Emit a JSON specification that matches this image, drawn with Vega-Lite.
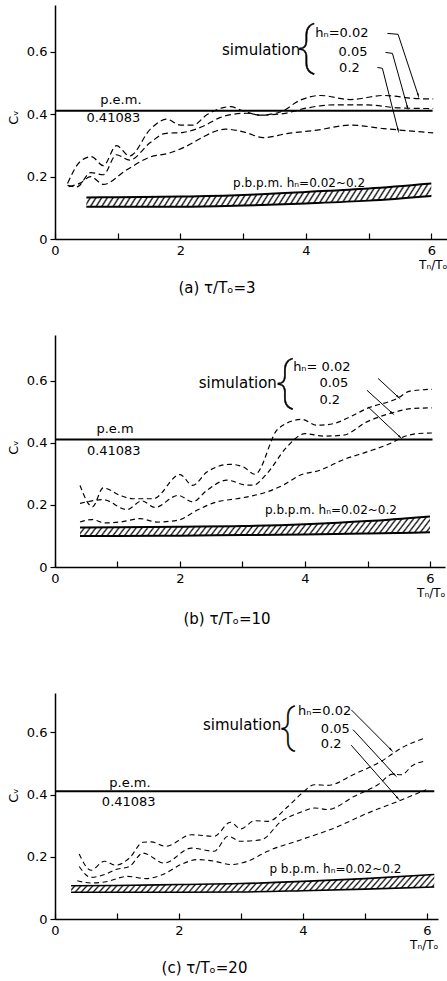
{
  "$schema": "https://vega.github.io/schema/vega-lite/v6.json",
  "background": "white",
  "padding": {"left": 7, "top": 5, "right": 0, "bottom": 0},
  "spacing": 39,
  "config": {
    "font": "DejaVu Sans",
    "view": {"stroke": null},
    "axis": {"grid": false, "labelFlush": false, "domainColor": "black", "domainWidth": 1.5, "tickColor": "black", "tickWidth": 1.2, "labelColor": "black", "labelFontSize": 13, "titleColor": "black", "titleFontWeight": "normal"},
    "title": {"fontSize": 15, "fontWeight": "normal", "color": "black", "orient": "bottom", "anchor": "middle", "offset": 11},
    "area": {
      "fillOpacity": 1,
      "strokeWidth": 0,
      "fill": {
        "gradient": "linear", "x1": 0, "y1": 0, "x2": 1.05, "y2": 0.045,
        "stops": [
          {"offset":0,"color":"#fff"},{"offset":0.0045,"color":"#111"},{"offset":0.009,"color":"#fff"},
          {"offset":0.0156,"color":"#fff"},{"offset":0.0201,"color":"#111"},{"offset":0.0246,"color":"#fff"},
          {"offset":0.0313,"color":"#fff"},{"offset":0.0358,"color":"#111"},{"offset":0.0403,"color":"#fff"},
          {"offset":0.0469,"color":"#fff"},{"offset":0.0514,"color":"#111"},{"offset":0.0559,"color":"#fff"},
          {"offset":0.0625,"color":"#fff"},{"offset":0.067,"color":"#111"},{"offset":0.0715,"color":"#fff"},
          {"offset":0.0781,"color":"#fff"},{"offset":0.0826,"color":"#111"},{"offset":0.0871,"color":"#fff"},
          {"offset":0.0938,"color":"#fff"},{"offset":0.0983,"color":"#111"},{"offset":0.1028,"color":"#fff"},
          {"offset":0.1094,"color":"#fff"},{"offset":0.1139,"color":"#111"},{"offset":0.1184,"color":"#fff"},
          {"offset":0.125,"color":"#fff"},{"offset":0.1295,"color":"#111"},{"offset":0.134,"color":"#fff"},
          {"offset":0.1406,"color":"#fff"},{"offset":0.1451,"color":"#111"},{"offset":0.1496,"color":"#fff"},
          {"offset":0.1563,"color":"#fff"},{"offset":0.1608,"color":"#111"},{"offset":0.1653,"color":"#fff"},
          {"offset":0.1719,"color":"#fff"},{"offset":0.1764,"color":"#111"},{"offset":0.1809,"color":"#fff"},
          {"offset":0.1875,"color":"#fff"},{"offset":0.192,"color":"#111"},{"offset":0.1965,"color":"#fff"},
          {"offset":0.2031,"color":"#fff"},{"offset":0.2076,"color":"#111"},{"offset":0.2121,"color":"#fff"},
          {"offset":0.2188,"color":"#fff"},{"offset":0.2233,"color":"#111"},{"offset":0.2278,"color":"#fff"},
          {"offset":0.2344,"color":"#fff"},{"offset":0.2389,"color":"#111"},{"offset":0.2434,"color":"#fff"},
          {"offset":0.25,"color":"#fff"},{"offset":0.2545,"color":"#111"},{"offset":0.259,"color":"#fff"},
          {"offset":0.2656,"color":"#fff"},{"offset":0.2701,"color":"#111"},{"offset":0.2746,"color":"#fff"},
          {"offset":0.2813,"color":"#fff"},{"offset":0.2858,"color":"#111"},{"offset":0.2903,"color":"#fff"},
          {"offset":0.2969,"color":"#fff"},{"offset":0.3014,"color":"#111"},{"offset":0.3059,"color":"#fff"},
          {"offset":0.3125,"color":"#fff"},{"offset":0.317,"color":"#111"},{"offset":0.3215,"color":"#fff"},
          {"offset":0.3281,"color":"#fff"},{"offset":0.3326,"color":"#111"},{"offset":0.3371,"color":"#fff"},
          {"offset":0.3438,"color":"#fff"},{"offset":0.3483,"color":"#111"},{"offset":0.3528,"color":"#fff"},
          {"offset":0.3594,"color":"#fff"},{"offset":0.3639,"color":"#111"},{"offset":0.3684,"color":"#fff"},
          {"offset":0.375,"color":"#fff"},{"offset":0.3795,"color":"#111"},{"offset":0.384,"color":"#fff"},
          {"offset":0.3906,"color":"#fff"},{"offset":0.3951,"color":"#111"},{"offset":0.3996,"color":"#fff"},
          {"offset":0.4063,"color":"#fff"},{"offset":0.4108,"color":"#111"},{"offset":0.4153,"color":"#fff"},
          {"offset":0.4219,"color":"#fff"},{"offset":0.4264,"color":"#111"},{"offset":0.4309,"color":"#fff"},
          {"offset":0.4375,"color":"#fff"},{"offset":0.442,"color":"#111"},{"offset":0.4465,"color":"#fff"},
          {"offset":0.4531,"color":"#fff"},{"offset":0.4576,"color":"#111"},{"offset":0.4621,"color":"#fff"},
          {"offset":0.4688,"color":"#fff"},{"offset":0.4733,"color":"#111"},{"offset":0.4778,"color":"#fff"},
          {"offset":0.4844,"color":"#fff"},{"offset":0.4889,"color":"#111"},{"offset":0.4934,"color":"#fff"},
          {"offset":0.5,"color":"#fff"},{"offset":0.5045,"color":"#111"},{"offset":0.509,"color":"#fff"},
          {"offset":0.5156,"color":"#fff"},{"offset":0.5201,"color":"#111"},{"offset":0.5246,"color":"#fff"},
          {"offset":0.5313,"color":"#fff"},{"offset":0.5358,"color":"#111"},{"offset":0.5403,"color":"#fff"},
          {"offset":0.5469,"color":"#fff"},{"offset":0.5514,"color":"#111"},{"offset":0.5559,"color":"#fff"},
          {"offset":0.5625,"color":"#fff"},{"offset":0.567,"color":"#111"},{"offset":0.5715,"color":"#fff"},
          {"offset":0.5781,"color":"#fff"},{"offset":0.5826,"color":"#111"},{"offset":0.5871,"color":"#fff"},
          {"offset":0.5938,"color":"#fff"},{"offset":0.5983,"color":"#111"},{"offset":0.6028,"color":"#fff"},
          {"offset":0.6094,"color":"#fff"},{"offset":0.6139,"color":"#111"},{"offset":0.6184,"color":"#fff"},
          {"offset":0.625,"color":"#fff"},{"offset":0.6295,"color":"#111"},{"offset":0.634,"color":"#fff"},
          {"offset":0.6406,"color":"#fff"},{"offset":0.6451,"color":"#111"},{"offset":0.6496,"color":"#fff"},
          {"offset":0.6563,"color":"#fff"},{"offset":0.6608,"color":"#111"},{"offset":0.6653,"color":"#fff"},
          {"offset":0.6719,"color":"#fff"},{"offset":0.6764,"color":"#111"},{"offset":0.6809,"color":"#fff"},
          {"offset":0.6875,"color":"#fff"},{"offset":0.692,"color":"#111"},{"offset":0.6965,"color":"#fff"},
          {"offset":0.7031,"color":"#fff"},{"offset":0.7076,"color":"#111"},{"offset":0.7121,"color":"#fff"},
          {"offset":0.7188,"color":"#fff"},{"offset":0.7233,"color":"#111"},{"offset":0.7278,"color":"#fff"},
          {"offset":0.7344,"color":"#fff"},{"offset":0.7389,"color":"#111"},{"offset":0.7434,"color":"#fff"},
          {"offset":0.75,"color":"#fff"},{"offset":0.7545,"color":"#111"},{"offset":0.759,"color":"#fff"},
          {"offset":0.7656,"color":"#fff"},{"offset":0.7701,"color":"#111"},{"offset":0.7746,"color":"#fff"},
          {"offset":0.7813,"color":"#fff"},{"offset":0.7858,"color":"#111"},{"offset":0.7903,"color":"#fff"},
          {"offset":0.7969,"color":"#fff"},{"offset":0.8014,"color":"#111"},{"offset":0.8059,"color":"#fff"},
          {"offset":0.8125,"color":"#fff"},{"offset":0.817,"color":"#111"},{"offset":0.8215,"color":"#fff"},
          {"offset":0.8281,"color":"#fff"},{"offset":0.8326,"color":"#111"},{"offset":0.8371,"color":"#fff"},
          {"offset":0.8438,"color":"#fff"},{"offset":0.8483,"color":"#111"},{"offset":0.8528,"color":"#fff"},
          {"offset":0.8594,"color":"#fff"},{"offset":0.8639,"color":"#111"},{"offset":0.8684,"color":"#fff"},
          {"offset":0.875,"color":"#fff"},{"offset":0.8795,"color":"#111"},{"offset":0.884,"color":"#fff"},
          {"offset":0.8906,"color":"#fff"},{"offset":0.8951,"color":"#111"},{"offset":0.8996,"color":"#fff"},
          {"offset":0.9063,"color":"#fff"},{"offset":0.9108,"color":"#111"},{"offset":0.9153,"color":"#fff"},
          {"offset":0.9219,"color":"#fff"},{"offset":0.9264,"color":"#111"},{"offset":0.9309,"color":"#fff"},
          {"offset":0.9375,"color":"#fff"},{"offset":0.942,"color":"#111"},{"offset":0.9465,"color":"#fff"},
          {"offset":0.9531,"color":"#fff"},{"offset":0.9576,"color":"#111"},{"offset":0.9621,"color":"#fff"},
          {"offset":0.9688,"color":"#fff"},{"offset":0.9733,"color":"#111"},{"offset":0.9778,"color":"#fff"},
          {"offset":0.9844,"color":"#fff"},{"offset":0.9889,"color":"#111"},{"offset":0.9934,"color":"#fff"},
          {"offset":1,"color":"#fff"}
        ]
      }
    }
  },
  "datasets": {
    "sim": [
      {"panel":"a","h":"0.02","x":0.2,"cv":0.178},{"panel":"a","h":"0.02","x":0.4,"cv":0.248},{"panel":"a","h":"0.02","x":0.58,"cv":0.264},{"panel":"a","h":"0.02","x":0.77,"cv":0.235},{"panel":"a","h":"0.02","x":0.98,"cv":0.299},{"panel":"a","h":"0.02","x":1.19,"cv":0.266},{"panel":"a","h":"0.02","x":1.52,"cv":0.352},{"panel":"a","h":"0.02","x":1.78,"cv":0.384},{"panel":"a","h":"0.02","x":2.0,"cv":0.365},{"panel":"a","h":"0.02","x":2.2,"cv":0.365},{"panel":"a","h":"0.02","x":2.42,"cv":0.398},{"panel":"a","h":"0.02","x":2.7,"cv":0.422},{"panel":"a","h":"0.02","x":2.8,"cv":0.424},{"panel":"a","h":"0.02","x":2.98,"cv":0.412},{"panel":"a","h":"0.02","x":3.27,"cv":0.397},{"panel":"a","h":"0.02","x":3.59,"cv":0.407},{"panel":"a","h":"0.02","x":3.91,"cv":0.445},{"panel":"a","h":"0.02","x":4.23,"cv":0.46},{"panel":"a","h":"0.02","x":4.71,"cv":0.447},{"panel":"a","h":"0.02","x":5.24,"cv":0.46},{"panel":"a","h":"0.02","x":5.77,"cv":0.45},{"panel":"a","h":"0.02","x":6.03,"cv":0.449},
      {"panel":"a","h":"0.05","x":0.2,"cv":0.172},{"panel":"a","h":"0.05","x":0.35,"cv":0.167},{"panel":"a","h":"0.05","x":0.57,"cv":0.213},{"panel":"a","h":"0.05","x":0.77,"cv":0.206},{"panel":"a","h":"0.05","x":0.98,"cv":0.27},{"panel":"a","h":"0.05","x":1.19,"cv":0.253},{"panel":"a","h":"0.05","x":1.52,"cv":0.309},{"panel":"a","h":"0.05","x":1.75,"cv":0.338},{"panel":"a","h":"0.05","x":2.05,"cv":0.342},{"panel":"a","h":"0.05","x":2.37,"cv":0.362},{"panel":"a","h":"0.05","x":2.63,"cv":0.389},{"panel":"a","h":"0.05","x":2.84,"cv":0.4},{"panel":"a","h":"0.05","x":3.06,"cv":0.403},{"panel":"a","h":"0.05","x":3.27,"cv":0.397},{"panel":"a","h":"0.05","x":3.64,"cv":0.402},{"panel":"a","h":"0.05","x":4.02,"cv":0.42},{"panel":"a","h":"0.05","x":4.44,"cv":0.43},{"panel":"a","h":"0.05","x":4.97,"cv":0.43},{"panel":"a","h":"0.05","x":5.5,"cv":0.42},{"panel":"a","h":"0.05","x":6.03,"cv":0.418},
      {"panel":"a","h":"0.2","x":0.22,"cv":0.168},{"panel":"a","h":"0.2","x":0.4,"cv":0.179},{"panel":"a","h":"0.2","x":0.57,"cv":0.2},{"panel":"a","h":"0.2","x":0.77,"cv":0.175},{"panel":"a","h":"0.2","x":1.14,"cv":0.221},{"panel":"a","h":"0.2","x":1.52,"cv":0.263},{"panel":"a","h":"0.2","x":1.8,"cv":0.274},{"panel":"a","h":"0.2","x":2.07,"cv":0.295},{"panel":"a","h":"0.2","x":2.37,"cv":0.328},{"panel":"a","h":"0.2","x":2.58,"cv":0.347},{"panel":"a","h":"0.2","x":2.72,"cv":0.352},{"panel":"a","h":"0.2","x":3.03,"cv":0.342},{"panel":"a","h":"0.2","x":3.32,"cv":0.325},{"panel":"a","h":"0.2","x":3.7,"cv":0.338},{"panel":"a","h":"0.2","x":4.18,"cv":0.349},{"panel":"a","h":"0.2","x":4.71,"cv":0.365},{"panel":"a","h":"0.2","x":5.24,"cv":0.354},{"panel":"a","h":"0.2","x":6.03,"cv":0.34},
      {"panel":"b","h":"0.02","x":0.4,"cv":0.263},{"panel":"b","h":"0.02","x":0.6,"cv":0.194},{"panel":"b","h":"0.02","x":0.77,"cv":0.255},{"panel":"b","h":"0.02","x":1.04,"cv":0.231},{"panel":"b","h":"0.02","x":1.25,"cv":0.22},{"panel":"b","h":"0.02","x":1.57,"cv":0.22},{"panel":"b","h":"0.02","x":2.0,"cv":0.298},{"panel":"b","h":"0.02","x":2.2,"cv":0.263},{"panel":"b","h":"0.02","x":2.43,"cv":0.306},{"panel":"b","h":"0.02","x":2.8,"cv":0.331},{"panel":"b","h":"0.02","x":3.01,"cv":0.323},{"panel":"b","h":"0.02","x":3.2,"cv":0.299},{"panel":"b","h":"0.02","x":3.57,"cv":0.446},{"panel":"b","h":"0.02","x":3.95,"cv":0.476},{"panel":"b","h":"0.02","x":4.19,"cv":0.457},{"panel":"b","h":"0.02","x":4.45,"cv":0.462},{"panel":"b","h":"0.02","x":4.72,"cv":0.484},{"panel":"b","h":"0.02","x":4.99,"cv":0.511},{"panel":"b","h":"0.02","x":5.47,"cv":0.543},{"panel":"b","h":"0.02","x":5.68,"cv":0.567},{"panel":"b","h":"0.02","x":6.03,"cv":0.573},
      {"panel":"b","h":"0.05","x":0.4,"cv":0.205},{"panel":"b","h":"0.05","x":0.77,"cv":0.217},{"panel":"b","h":"0.05","x":1.15,"cv":0.185},{"panel":"b","h":"0.05","x":1.39,"cv":0.213},{"panel":"b","h":"0.05","x":1.6,"cv":0.192},{"panel":"b","h":"0.05","x":1.97,"cv":0.231},{"panel":"b","h":"0.05","x":2.2,"cv":0.21},{"panel":"b","h":"0.05","x":2.43,"cv":0.247},{"panel":"b","h":"0.05","x":2.75,"cv":0.28},{"panel":"b","h":"0.05","x":3.07,"cv":0.264},{"panel":"b","h":"0.05","x":3.17,"cv":0.264},{"panel":"b","h":"0.05","x":3.39,"cv":0.301},{"panel":"b","h":"0.05","x":3.71,"cv":0.387},{"panel":"b","h":"0.05","x":4.0,"cv":0.43},{"panel":"b","h":"0.05","x":4.29,"cv":0.422},{"panel":"b","h":"0.05","x":4.61,"cv":0.425},{"panel":"b","h":"0.05","x":4.99,"cv":0.468},{"panel":"b","h":"0.05","x":5.36,"cv":0.495},{"panel":"b","h":"0.05","x":5.73,"cv":0.511},{"panel":"b","h":"0.05","x":6.03,"cv":0.513},
      {"panel":"b","h":"0.2","x":0.4,"cv":0.145},{"panel":"b","h":"0.2","x":0.59,"cv":0.153},{"panel":"b","h":"0.2","x":0.8,"cv":0.142},{"panel":"b","h":"0.2","x":1.04,"cv":0.145},{"panel":"b","h":"0.2","x":1.36,"cv":0.156},{"panel":"b","h":"0.2","x":1.63,"cv":0.145},{"panel":"b","h":"0.2","x":1.97,"cv":0.151},{"panel":"b","h":"0.2","x":2.27,"cv":0.183},{"panel":"b","h":"0.2","x":2.59,"cv":0.21},{"panel":"b","h":"0.2","x":2.91,"cv":0.22},{"panel":"b","h":"0.2","x":3.12,"cv":0.228},{"panel":"b","h":"0.2","x":3.39,"cv":0.242},{"panel":"b","h":"0.2","x":3.65,"cv":0.264},{"panel":"b","h":"0.2","x":3.92,"cv":0.296},{"panel":"b","h":"0.2","x":4.24,"cv":0.312},{"panel":"b","h":"0.2","x":4.61,"cv":0.346},{"panel":"b","h":"0.2","x":4.99,"cv":0.371},{"panel":"b","h":"0.2","x":5.36,"cv":0.398},{"panel":"b","h":"0.2","x":5.57,"cv":0.419},{"panel":"b","h":"0.2","x":5.79,"cv":0.43},{"panel":"b","h":"0.2","x":6.03,"cv":0.432},
      {"panel":"c","h":"0.02","x":0.39,"cv":0.209},{"panel":"c","h":"0.02","x":0.58,"cv":0.157},{"panel":"c","h":"0.02","x":0.8,"cv":0.186},{"panel":"c","h":"0.02","x":0.98,"cv":0.173},{"panel":"c","h":"0.02","x":1.2,"cv":0.196},{"panel":"c","h":"0.02","x":1.42,"cv":0.247},{"panel":"c","h":"0.02","x":1.55,"cv":0.248},{"panel":"c","h":"0.02","x":1.79,"cv":0.234},{"panel":"c","h":"0.02","x":2.2,"cv":0.271},{"panel":"c","h":"0.02","x":2.57,"cv":0.266},{"panel":"c","h":"0.02","x":2.83,"cv":0.311},{"panel":"c","h":"0.02","x":3.0,"cv":0.29},{"panel":"c","h":"0.02","x":3.22,"cv":0.316},{"panel":"c","h":"0.02","x":3.43,"cv":0.314},{"panel":"c","h":"0.02","x":3.76,"cv":0.362},{"panel":"c","h":"0.02","x":3.97,"cv":0.402},{"panel":"c","h":"0.02","x":4.19,"cv":0.432},{"panel":"c","h":"0.02","x":4.4,"cv":0.43},{"panel":"c","h":"0.02","x":4.83,"cv":0.466},{"panel":"c","h":"0.02","x":5.26,"cv":0.507},{"panel":"c","h":"0.02","x":5.59,"cv":0.55},{"panel":"c","h":"0.02","x":5.99,"cv":0.584},
      {"panel":"c","h":"0.05","x":0.39,"cv":0.169},{"panel":"c","h":"0.05","x":0.58,"cv":0.134},{"panel":"c","h":"0.05","x":0.8,"cv":0.143},{"panel":"c","h":"0.05","x":0.98,"cv":0.159},{"panel":"c","h":"0.05","x":1.2,"cv":0.169},{"panel":"c","h":"0.05","x":1.42,"cv":0.212},{"panel":"c","h":"0.05","x":1.76,"cv":0.18},{"panel":"c","h":"0.05","x":2.2,"cv":0.228},{"panel":"c","h":"0.05","x":2.57,"cv":0.218},{"panel":"c","h":"0.05","x":2.79,"cv":0.266},{"panel":"c","h":"0.05","x":3.0,"cv":0.25},{"panel":"c","h":"0.05","x":3.33,"cv":0.255},{"panel":"c","h":"0.05","x":3.65,"cv":0.314},{"panel":"c","h":"0.05","x":3.97,"cv":0.344},{"panel":"c","h":"0.05","x":4.19,"cv":0.357},{"panel":"c","h":"0.05","x":4.4,"cv":0.352},{"panel":"c","h":"0.05","x":4.83,"cv":0.395},{"panel":"c","h":"0.05","x":5.21,"cv":0.432},{"panel":"c","h":"0.05","x":5.45,"cv":0.466},{"panel":"c","h":"0.05","x":5.59,"cv":0.464},{"panel":"c","h":"0.05","x":5.77,"cv":0.494},{"panel":"c","h":"0.05","x":5.99,"cv":0.509},
      {"panel":"c","h":"0.2","x":0.36,"cv":0.123},{"panel":"c","h":"0.2","x":0.58,"cv":0.116},{"panel":"c","h":"0.2","x":0.8,"cv":0.119},{"panel":"c","h":"0.2","x":1.17,"cv":0.137},{"panel":"c","h":"0.2","x":1.47,"cv":0.13},{"panel":"c","h":"0.2","x":1.74,"cv":0.143},{"panel":"c","h":"0.2","x":2.03,"cv":0.175},{"panel":"c","h":"0.2","x":2.3,"cv":0.191},{"panel":"c","h":"0.2","x":2.57,"cv":0.186},{"panel":"c","h":"0.2","x":2.84,"cv":0.175},{"panel":"c","h":"0.2","x":3.11,"cv":0.186},{"panel":"c","h":"0.2","x":3.43,"cv":0.218},{"panel":"c","h":"0.2","x":3.97,"cv":0.255},{"panel":"c","h":"0.2","x":4.51,"cv":0.293},{"panel":"c","h":"0.2","x":5.05,"cv":0.341},{"panel":"c","h":"0.2","x":5.53,"cv":0.378},{"panel":"c","h":"0.2","x":5.99,"cv":0.416}
    ],
    "band": [
      {"panel":"a","x":0.5,"lo":0.103,"hi":0.133},{"panel":"a","x":1,"lo":0.103,"hi":0.134},{"panel":"a","x":2,"lo":0.103,"hi":0.136},{"panel":"a","x":3,"lo":0.107,"hi":0.141},{"panel":"a","x":4,"lo":0.114,"hi":0.151},{"panel":"a","x":5,"lo":0.123,"hi":0.162},{"panel":"a","x":6,"lo":0.138,"hi":0.178},
      {"panel":"b","x":0.4,"lo":0.1,"hi":0.127},{"panel":"b","x":1,"lo":0.1,"hi":0.128},{"panel":"b","x":2,"lo":0.101,"hi":0.13},{"panel":"b","x":3,"lo":0.103,"hi":0.132},{"panel":"b","x":4,"lo":0.105,"hi":0.138},{"panel":"b","x":5,"lo":0.108,"hi":0.148},{"panel":"b","x":6,"lo":0.112,"hi":0.163},
      {"panel":"c","x":0.26,"lo":0.086,"hi":0.107},{"panel":"c","x":1,"lo":0.086,"hi":0.108},{"panel":"c","x":2,"lo":0.086,"hi":0.111},{"panel":"c","x":3,"lo":0.087,"hi":0.114},{"panel":"c","x":4,"lo":0.091,"hi":0.121},{"panel":"c","x":5,"lo":0.096,"hi":0.13},{"panel":"c","x":6.12,"lo":0.103,"hi":0.143}
    ],
    "pem": [
      {"panel":"a","x":0,"cv":0.41083},{"panel":"a","x":6.02,"cv":0.41083},
      {"panel":"b","x":0,"cv":0.41083},{"panel":"b","x":6.04,"cv":0.41083},
      {"panel":"c","x":0,"cv":0.41083},{"panel":"c","x":6.12,"cv":0.41083}
    ],
    "arrows": [
      {"panel":"a","h":"0.02","part":"tail","x":5.3,"cv":0.659},{"panel":"a","h":"0.02","part":"bend","x":5.47,"cv":0.656},{"panel":"a","h":"0.02","part":"tip","x":5.79,"cv":0.461},
      {"panel":"a","h":"0.05","part":"tail","x":5.27,"cv":0.598},{"panel":"a","h":"0.05","part":"bend","x":5.38,"cv":0.595},{"panel":"a","h":"0.05","part":"tip","x":5.62,"cv":0.422},
      {"panel":"a","h":"0.2","part":"tail","x":5.14,"cv":0.55},{"panel":"a","h":"0.2","part":"bend","x":5.22,"cv":0.547},{"panel":"a","h":"0.2","part":"tip","x":5.47,"cv":0.349},
      {"panel":"b","h":"0.02","part":"tail","x":5.17,"cv":0.608},{"panel":"b","h":"0.02","part":"tip","x":5.49,"cv":0.548},
      {"panel":"b","h":"0.05","part":"tail","x":4.99,"cv":0.57},{"panel":"b","h":"0.05","part":"tip","x":5.39,"cv":0.497},
      {"panel":"b","h":"0.2","part":"tail","x":5.01,"cv":0.516},{"panel":"b","h":"0.2","part":"tip","x":5.52,"cv":0.419},
      {"panel":"c","h":"0.02","part":"tail","x":4.78,"cv":0.673},{"panel":"c","h":"0.02","part":"tip","x":5.42,"cv":0.545},
      {"panel":"c","h":"0.05","part":"tail","x":4.81,"cv":0.609},{"panel":"c","h":"0.05","part":"tip","x":5.48,"cv":0.464},
      {"panel":"c","h":"0.2","part":"tail","x":4.78,"cv":0.559},{"panel":"c","h":"0.2","part":"tip","x":5.53,"cv":0.389}
    ],
    "notes": [
      {"panel":"a","role":"pem","x":1.05,"cv":0.447,"text":"p.e.m."},
      {"panel":"a","role":"val","x":0.93,"cv":0.387,"text":"0.41083"},
      {"panel":"a","role":"sim","x":3.91,"cv":0.605,"text":"simulation"},
      {"panel":"a","role":"brace","x":4.0,"cv":0.613,"text":"{"},
      {"panel":"a","role":"h","x":4.15,"cv":0.659,"text":"hₙ=0.02"},
      {"panel":"a","role":"h","x":4.52,"cv":0.598,"text":"0.05"},
      {"panel":"a","role":"h","x":4.53,"cv":0.547,"text":"0.2"},
      {"panel":"a","role":"pbpm","x":2.84,"cv":0.179,"text":"p.b.p.m.  hₙ=0.02~0.2"},
      {"panel":"b","role":"pem","x":0.96,"cv":0.446,"text":"p.e.m"},
      {"panel":"b","role":"val","x":0.94,"cv":0.374,"text":"0.41083"},
      {"panel":"b","role":"sim","x":3.55,"cv":0.592,"text":"simulation"},
      {"panel":"b","role":"brace","x":3.67,"cv":0.594,"text":"{"},
      {"panel":"b","role":"h","x":3.81,"cv":0.645,"text":"hₙ= 0.02"},
      {"panel":"b","role":"h","x":4.23,"cv":0.594,"text":"0.05"},
      {"panel":"b","role":"h","x":4.23,"cv":0.54,"text":"0.2"},
      {"panel":"b","role":"pbpm","x":3.36,"cv":0.183,"text":"p.b.p.m.  hₙ=0.02~0.2"},
      {"panel":"c","role":"pem","x":1.21,"cv":0.437,"text":"p.e.m."},
      {"panel":"c","role":"val","x":1.19,"cv":0.375,"text":"0.41083"},
      {"panel":"c","role":"sim","x":3.65,"cv":0.625,"text":"simulation"},
      {"panel":"c","role":"brace","x":3.75,"cv":0.616,"text":"{"},
      {"panel":"c","role":"h","x":3.92,"cv":0.668,"text":"hₙ=0.02"},
      {"panel":"c","role":"h","x":4.29,"cv":0.612,"text":"0.05"},
      {"panel":"c","role":"h","x":4.29,"cv":0.563,"text":"0.2"},
      {"panel":"c","role":"pbpm","x":3.46,"cv":0.162,"text":"p b.p.m.  hₙ=0.02~0.2"}
    ]
  },
  "vconcat": [
    {
      "width": 392, "height": 234,
      "title": {"text": "(a)  τ/Tₒ=3", "dx": -34, "offset": 11},
      "encoding": {"x": {"field": "x", "type": "quantitative", "scale": {"domain": [0, 6.25], "nice": false}, "axis": {"values": [0,1,2,3,4,5,6], "tickSize": -6, "labelPadding": 11, "labelExpr": "datum.value % 2 === 0 ? datum.label : ''", "title": "Tₙ/Tₒ", "titleAnchor": "end", "titleFontSize": 12, "titlePadding": 2}}},
      "layer": [
        {"data": {"name": "band"}, "transform": [{"filter": "datum.panel === 'a'"}], "mark": {"type": "area", "interpolate": "monotone"},
         "encoding": {"y": {"field": "hi", "type": "quantitative", "scale": {"domain": [0, 0.75], "nice": false}, "axis": {"values": [0,0.2,0.4,0.6], "labelExpr": "datum.value === 0 ? '0' : datum.label", "tickSize": 5, "labelPadding": 3, "title": "Cᵥ", "titleFontSize": 13, "titleX": -35, "titleY": 112}}, "y2": {"field": "lo"}}},
        {"data": {"name": "band"}, "transform": [{"filter": "datum.panel === 'a'"}], "mark": {"type": "line", "color": "black", "strokeWidth": 2, "interpolate": "monotone"}, "encoding": {"y": {"field": "hi", "type": "quantitative"}}},
        {"data": {"name": "band"}, "transform": [{"filter": "datum.panel === 'a'"}], "mark": {"type": "line", "color": "black", "strokeWidth": 2, "interpolate": "monotone"}, "encoding": {"y": {"field": "lo", "type": "quantitative"}}},
        {"data": {"name": "pem"}, "transform": [{"filter": "datum.panel === 'a'"}], "mark": {"type": "line", "color": "black", "strokeWidth": 2}, "encoding": {"y": {"field": "cv", "type": "quantitative"}}},
        {"data": {"name": "sim"}, "transform": [{"filter": "datum.panel === 'a'"}], "mark": {"type": "line", "color": "black", "strokeWidth": 1.2, "strokeDash": [6, 3.5], "interpolate": "monotone"}, "encoding": {"y": {"field": "cv", "type": "quantitative"}, "detail": {"field": "h", "type": "nominal"}}},
        {"data": {"name": "arrows"}, "transform": [{"filter": "datum.panel === 'a'"}], "mark": {"type": "line", "color": "black", "strokeWidth": 1}, "encoding": {"y": {"field": "cv", "type": "quantitative"}, "detail": {"field": "h", "type": "nominal"}}},
        {"data": {"name": "arrows"}, "transform": [{"filter": "datum.panel === 'a' && datum.part === 'tip'"}], "mark": {"type": "point", "shape": "wedge", "filled": true, "color": "black", "opacity": 1, "size": 45, "angle": 164}, "encoding": {"y": {"field": "cv", "type": "quantitative"}}},
        {"data": {"name": "notes"}, "transform": [{"filter": "datum.panel === 'a' && (datum.role === 'pem' || datum.role === 'val')"}], "mark": {"type": "text", "align": "center", "baseline": "middle", "fontSize": 13, "color": "black"}, "encoding": {"y": {"field": "cv", "type": "quantitative"}, "text": {"field": "text"}}},
        {"data": {"name": "notes"}, "transform": [{"filter": "datum.panel === 'a' && datum.role === 'sim'"}], "mark": {"type": "text", "align": "right", "baseline": "middle", "fontSize": 15, "color": "black"}, "encoding": {"y": {"field": "cv", "type": "quantitative"}, "text": {"field": "text"}}},
        {"data": {"name": "notes"}, "transform": [{"filter": "datum.panel === 'a' && datum.role === 'h'"}], "mark": {"type": "text", "align": "left", "baseline": "middle", "fontSize": 13, "color": "black"}, "encoding": {"y": {"field": "cv", "type": "quantitative"}, "text": {"field": "text"}}},
        {"data": {"name": "notes"}, "transform": [{"filter": "datum.panel === 'a' && datum.role === 'pbpm'"}], "mark": {"type": "text", "align": "left", "baseline": "middle", "fontSize": 12, "color": "black"}, "encoding": {"y": {"field": "cv", "type": "quantitative"}, "text": {"field": "text"}}},
        {"data": {"name": "notes"}, "transform": [{"filter": "datum.panel === 'a' && datum.role === 'brace'"}], "mark": {"type": "text", "align": "center", "baseline": "middle", "font": "Roboto", "fontWeight": 100, "fontSize": 52, "color": "black", "stroke": "black", "strokeWidth": 0.5}, "encoding": {"y": {"field": "cv", "type": "quantitative"}, "text": {"field": "text"}}}
      ]
    },
    {
      "spacing": 66,
      "vconcat": [
        {
          "width": 390, "height": 232,
          "title": {"text": "(b)  τ/Tₒ=10", "dx": -23, "offset": 14},
          "encoding": {"x": {"field": "x", "type": "quantitative", "scale": {"domain": [0, 6.24], "nice": false}, "axis": {"values": [0,1,2,3,4,5,6], "tickSize": -6, "labelPadding": 11, "labelExpr": "datum.value % 2 === 0 ? datum.label : ''", "title": "Tₙ/Tₒ", "titleAnchor": "end", "titleFontSize": 12, "titlePadding": 2}}},
          "layer": [
            {"data": {"name": "band"}, "transform": [{"filter": "datum.panel === 'b'"}], "mark": {"type": "area", "interpolate": "monotone"},
             "encoding": {"y": {"field": "hi", "type": "quantitative", "scale": {"domain": [0, 0.748], "nice": false}, "axis": {"values": [0,0.2,0.4,0.6], "labelExpr": "datum.value === 0 ? '0' : datum.label", "tickSize": 5, "labelPadding": 3, "title": "Cᵥ", "titleFontSize": 13, "titleX": -35, "titleY": 112}}, "y2": {"field": "lo"}}},
            {"data": {"name": "band"}, "transform": [{"filter": "datum.panel === 'b'"}], "mark": {"type": "line", "color": "black", "strokeWidth": 2, "interpolate": "monotone"}, "encoding": {"y": {"field": "hi", "type": "quantitative"}}},
            {"data": {"name": "band"}, "transform": [{"filter": "datum.panel === 'b'"}], "mark": {"type": "line", "color": "black", "strokeWidth": 2, "interpolate": "monotone"}, "encoding": {"y": {"field": "lo", "type": "quantitative"}}},
            {"data": {"name": "pem"}, "transform": [{"filter": "datum.panel === 'b'"}], "mark": {"type": "line", "color": "black", "strokeWidth": 2}, "encoding": {"y": {"field": "cv", "type": "quantitative"}}},
            {"data": {"name": "sim"}, "transform": [{"filter": "datum.panel === 'b'"}], "mark": {"type": "line", "color": "black", "strokeWidth": 1.2, "strokeDash": [5, 3.5], "interpolate": "monotone"}, "encoding": {"y": {"field": "cv", "type": "quantitative"}, "detail": {"field": "h", "type": "nominal"}}},
            {"data": {"name": "arrows"}, "transform": [{"filter": "datum.panel === 'b'"}], "mark": {"type": "line", "color": "black", "strokeWidth": 1}, "encoding": {"y": {"field": "cv", "type": "quantitative"}, "detail": {"field": "h", "type": "nominal"}}},
            {"data": {"name": "arrows"}, "transform": [{"filter": "datum.panel === 'b' && datum.part === 'tip'"}], "mark": {"type": "point", "shape": "wedge", "filled": true, "color": "black", "opacity": 1, "size": 45, "angle": 133}, "encoding": {"y": {"field": "cv", "type": "quantitative"}}},
            {"data": {"name": "notes"}, "transform": [{"filter": "datum.panel === 'b' && (datum.role === 'pem' || datum.role === 'val')"}], "mark": {"type": "text", "align": "center", "baseline": "middle", "fontSize": 13, "color": "black"}, "encoding": {"y": {"field": "cv", "type": "quantitative"}, "text": {"field": "text"}}},
            {"data": {"name": "notes"}, "transform": [{"filter": "datum.panel === 'b' && datum.role === 'sim'"}], "mark": {"type": "text", "align": "right", "baseline": "middle", "fontSize": 15, "color": "black"}, "encoding": {"y": {"field": "cv", "type": "quantitative"}, "text": {"field": "text"}}},
            {"data": {"name": "notes"}, "transform": [{"filter": "datum.panel === 'b' && datum.role === 'h'"}], "mark": {"type": "text", "align": "left", "baseline": "middle", "fontSize": 13, "color": "black"}, "encoding": {"y": {"field": "cv", "type": "quantitative"}, "text": {"field": "text"}}},
            {"data": {"name": "notes"}, "transform": [{"filter": "datum.panel === 'b' && datum.role === 'pbpm'"}], "mark": {"type": "text", "align": "left", "baseline": "middle", "fontSize": 12, "color": "black"}, "encoding": {"y": {"field": "cv", "type": "quantitative"}, "text": {"field": "text"}}},
            {"data": {"name": "notes"}, "transform": [{"filter": "datum.panel === 'b' && datum.role === 'brace'"}], "mark": {"type": "text", "align": "center", "baseline": "middle", "font": "Roboto", "fontWeight": 100, "fontSize": 52, "color": "black", "stroke": "black", "strokeWidth": 0.5}, "encoding": {"y": {"field": "cv", "type": "quantitative"}, "text": {"field": "text"}}}
          ]
        },
        {
          "width": 383, "height": 226,
          "title": {"text": "(c)  τ/Tₒ=20", "dx": -42, "offset": 11},
          "encoding": {"x": {"field": "x", "type": "quantitative", "scale": {"domain": [0, 6.18], "nice": false}, "axis": {"values": [0,1,2,3,4,5,6], "tickSize": -6, "labelPadding": 11, "labelExpr": "datum.value % 2 === 0 ? datum.label : ''", "title": "Tₙ/Tₒ", "titleAnchor": "end", "titleFontSize": 12, "titlePadding": 2}}},
          "layer": [
            {"data": {"name": "band"}, "transform": [{"filter": "datum.panel === 'c'"}], "mark": {"type": "area", "interpolate": "monotone"},
             "encoding": {"y": {"field": "hi", "type": "quantitative", "scale": {"domain": [0, 0.727], "nice": false}, "axis": {"values": [0,0.2,0.4,0.6], "labelExpr": "datum.value === 0 ? '0' : datum.label", "tickSize": 5, "labelPadding": 3, "title": "Cᵥ", "titleFontSize": 13, "titleX": -35, "titleY": 102}}, "y2": {"field": "lo"}}},
            {"data": {"name": "band"}, "transform": [{"filter": "datum.panel === 'c'"}], "mark": {"type": "line", "color": "black", "strokeWidth": 1.6, "interpolate": "monotone"}, "encoding": {"y": {"field": "hi", "type": "quantitative"}}},
            {"data": {"name": "band"}, "transform": [{"filter": "datum.panel === 'c'"}], "mark": {"type": "line", "color": "black", "strokeWidth": 1.6, "interpolate": "monotone"}, "encoding": {"y": {"field": "lo", "type": "quantitative"}}},
            {"data": {"name": "pem"}, "transform": [{"filter": "datum.panel === 'c'"}], "mark": {"type": "line", "color": "black", "strokeWidth": 2}, "encoding": {"y": {"field": "cv", "type": "quantitative"}}},
            {"data": {"name": "sim"}, "transform": [{"filter": "datum.panel === 'c'"}], "mark": {"type": "line", "color": "black", "strokeWidth": 1.1, "strokeDash": [5, 3.5], "interpolate": "monotone"}, "encoding": {"y": {"field": "cv", "type": "quantitative"}, "detail": {"field": "h", "type": "nominal"}}},
            {"data": {"name": "arrows"}, "transform": [{"filter": "datum.panel === 'c'"}], "mark": {"type": "line", "color": "black", "strokeWidth": 1}, "encoding": {"y": {"field": "cv", "type": "quantitative"}, "detail": {"field": "h", "type": "nominal"}}},
            {"data": {"name": "arrows"}, "transform": [{"filter": "datum.panel === 'c' && datum.part === 'tip'"}], "mark": {"type": "point", "shape": "wedge", "filled": true, "color": "black", "opacity": 1, "size": 45, "angle": 137}, "encoding": {"y": {"field": "cv", "type": "quantitative"}}},
            {"data": {"name": "notes"}, "transform": [{"filter": "datum.panel === 'c' && (datum.role === 'pem' || datum.role === 'val')"}], "mark": {"type": "text", "align": "center", "baseline": "middle", "fontSize": 13, "color": "black"}, "encoding": {"y": {"field": "cv", "type": "quantitative"}, "text": {"field": "text"}}},
            {"data": {"name": "notes"}, "transform": [{"filter": "datum.panel === 'c' && datum.role === 'sim'"}], "mark": {"type": "text", "align": "right", "baseline": "middle", "fontSize": 15, "color": "black"}, "encoding": {"y": {"field": "cv", "type": "quantitative"}, "text": {"field": "text"}}},
            {"data": {"name": "notes"}, "transform": [{"filter": "datum.panel === 'c' && datum.role === 'h'"}], "mark": {"type": "text", "align": "left", "baseline": "middle", "fontSize": 13, "color": "black"}, "encoding": {"y": {"field": "cv", "type": "quantitative"}, "text": {"field": "text"}}},
            {"data": {"name": "notes"}, "transform": [{"filter": "datum.panel === 'c' && datum.role === 'pbpm'"}], "mark": {"type": "text", "align": "left", "baseline": "middle", "fontSize": 12, "color": "black"}, "encoding": {"y": {"field": "cv", "type": "quantitative"}, "text": {"field": "text"}}},
            {"data": {"name": "notes"}, "transform": [{"filter": "datum.panel === 'c' && datum.role === 'brace'"}], "mark": {"type": "text", "align": "center", "baseline": "middle", "font": "Roboto", "fontWeight": 100, "fontSize": 46, "color": "black", "stroke": "black", "strokeWidth": 0.5}, "encoding": {"y": {"field": "cv", "type": "quantitative"}, "text": {"field": "text"}}}
          ]
        }
      ]
    }
  ]
}
